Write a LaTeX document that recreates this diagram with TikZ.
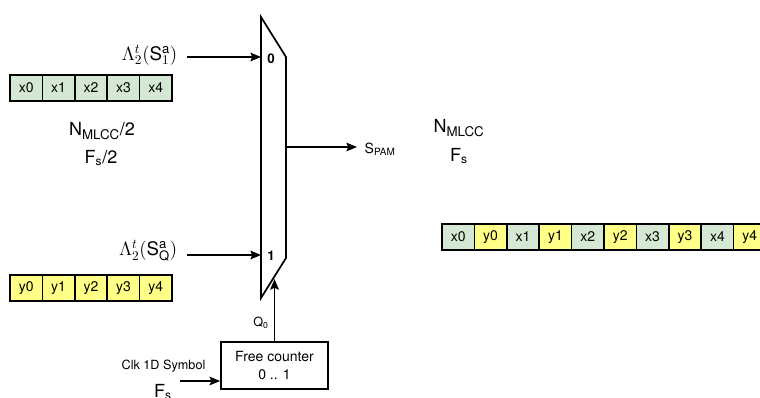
\documentclass[tikz,border=0pt]{standalone}
\usepackage{fontspec}
\setmainfont{TeX Gyre Heros}
\usetikzlibrary{arrows.meta}
\definecolor{cellgreen}{HTML}{D5E8D4}
\definecolor{cellyellow}{HTML}{FFFF88}
\tikzset{
  wire/.style={line width=1.2pt,-{Stealth[length=8pt,width=6.5pt,inset=1.5pt]}},
  cell/.style={draw,line width=1.3pt,minimum width=24.3pt,minimum height=19.5pt,inner sep=0pt,font=\fontsize{10.5}{12}\selectfont},
  xcell/.style={cell,fill=cellgreen},
  ycell/.style={cell,fill=cellyellow},
  rate/.style={font=\fontsize{13.5}{15}\selectfont},
  small/.style={font=\fontsize{9.5}{11}\selectfont},
  inlbl/.style={anchor=east,font=\fontsize{14}{16}\selectfont},
}
\begin{document}
\begin{tikzpicture}[x=0.75pt,y=-0.75pt]
\useasboundingbox (0,0) rectangle (760,397);

% multiplexer body
\draw[line width=1.3pt] (261,17) -- (286,57) -- (286,258) -- (261,298) -- cycle;
\coordinate (in0) at (261,57);
\coordinate (in1) at (261,255);
\coordinate (mout) at (286,147);
\coordinate (msel) at (274.5,279);
\node[font=\bfseries\fontsize{10}{12}\selectfont] (p0) at (271,59) {0};
\node[font=\bfseries\fontsize{10}{12}\selectfont] (p1) at (271,256) {1};

% input labels and arrows
\node[inlbl] (l0) at (182,55) {$\Lambda_2^t(\mathrm{S}_1^\mathrm{a})$};
\node[inlbl] (l1) at (182,251) {$\Lambda_2^t(\mathrm{S}_\mathrm{Q}^\mathrm{a})$};
\coordinate (s0) at (187,57);
\coordinate (s1) at (187,255);
\draw[wire] (s0) -- (in0);
\draw[wire] (s1) -- (in1);

% output
\coordinate (oend) at (357,147);
\draw[wire] (mout) -- (oend);
\node[anchor=west,font=\fontsize{10.5}{12}\selectfont] (spam) at (360,149) {S\textsubscript{\fontsize{7.5}{8}\selectfont PAM}};

% free counter and select line
\node[draw,line width=1.3pt,minimum width=80.25pt,minimum height=35.25pt,align=center,
      font=\fontsize{10.5}{13}\selectfont] (cnt) at (274.5,365.5) {Free counter\\0 .. 1};
\draw[wire] (cnt.north) -- (msel);
\node[small] (q0) at (261,323) {Q\textsubscript{\fontsize{6.5}{7}\selectfont 0}};
\coordinate (clk) at (180,381);
\draw[wire] (clk) -- (clk -| cnt.west);
\node[small] (clklbl) at (163.5,366) {Clk 1D Symbol};
\node[rate] (fsin) at (163,392) {F\textsubscript{\fontsize{9}{10}\selectfont s}};

% input symbol streams
\foreach \i in {0,...,4} {
  \node[xcell] (x\i) at ({26.2+32.4*\i},88) {x\i};
  \node[ycell] (y\i) at ({26.2+32.4*\i},288) {y\i};
}
\node[rate] (nhalf) at (102,131) {N\textsubscript{\fontsize{10}{11}\selectfont MLCC}/2};
\node[rate] (fhalf) at (101,158) {F\textsubscript{\fontsize{9}{10}\selectfont s}/2};

% interleaved output stream
\foreach \i in {0,...,4} {
  \node[xcell] (ox\i) at ({458.2+64.8*\i},237) {x\i};
  \node[ycell] (oy\i) at ({490.6+64.8*\i},237) {y\i};
}
\node[rate] (nfull) at (459,128) {N\textsubscript{\fontsize{10}{11}\selectfont MLCC}};
\node[rate] (ffull) at (459,156) {F\textsubscript{\fontsize{9}{10}\selectfont s}};
\end{tikzpicture}
\end{document}
